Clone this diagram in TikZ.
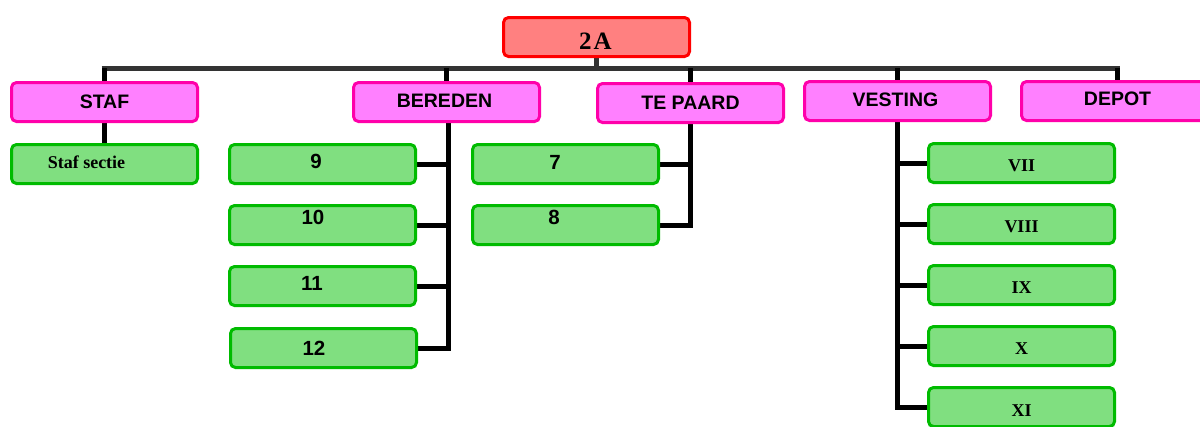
\documentclass[tikz,border=0pt]{standalone}
\usepackage{fontspec}
\usetikzlibrary{backgrounds}
\setmainfont{Liberation Serif}
\setsansfont{Liberation Sans}
\definecolor{topfill}{HTML}{FF8080}
\definecolor{topline}{HTML}{FF0000}
\definecolor{pinkfill}{HTML}{FF80FF}
\definecolor{pinkline}{HTML}{FF00AA}
\definecolor{greenfill}{HTML}{80DF80}
\definecolor{greenline}{HTML}{00BB00}
\definecolor{barcol}{HTML}{333333}
\tikzset{
  box/.style={rounded corners=5pt, line width=3pt, minimum width=186pt, minimum height=39pt, inner sep=0pt, anchor=north west},
  topbox/.style={box, draw=topline, fill=topfill},
  unitbox/.style={box, draw=pinkline, fill=pinkfill},
  greenbox/.style={box, draw=greenline, fill=greenfill},
  toptxt/.style={inner sep=0pt, font=\fontsize{25}{25}\selectfont\bfseries},
  unittxt/.style={inner sep=0pt, font=\sffamily\fontsize{19.5}{19.5}\selectfont\bfseries},
  numtxt/.style={inner sep=0pt, font=\sffamily\fontsize{20.5}{20.5}\selectfont\bfseries},
  romantxt/.style={inner sep=0pt, font=\fontsize{18}{18}\selectfont\bfseries},
  conn/.style={line width=5pt, draw=black},
  barline/.style={line width=5pt, draw=barcol},
}
\begin{document}
\begin{tikzpicture}[x=1pt,y=-1pt]
\clip (0,0) rectangle (1200,426);

% top
\node[topbox, label={[toptxt, xshift=-1pt, yshift=-4pt]center:2\kern2pt A}] (top) at (502,16) {};

% second level
\node[unitbox, label={[unittxt]center:STAF}] (staf) at (10,81) {};
\node[unitbox, label={[unittxt, xshift=-2pt, yshift=1pt]center:BEREDEN}] (bereden) at (352,81) {};
\node[unitbox, label={[unittxt]center:TE PAARD}] (tepaard) at (596,82) {};
\node[unitbox, label={[unittxt, xshift=-2pt, yshift=1.5pt]center:VESTING}] (vesting) at (803,80) {};
\node[unitbox, label={[unittxt, xshift=3pt, yshift=2pt]center:DEPOT}] (depot) at (1020,80) {};

% staf
\node[greenbox, label={[romantxt, xshift=-18pt, yshift=2pt]center:Staf sectie}] (sectie) at (10,143) {};

% bereden
\node[greenbox, label={[numtxt, xshift=-6.5pt, yshift=3pt]center:9}] (b9) at (228,143) {};
\node[greenbox, label={[numtxt, xshift=-9.5pt, yshift=8pt]center:10}] (b10) at (228,204) {};
\node[greenbox, label={[numtxt, xshift=-10.5pt, yshift=3pt]center:11}] (b11) at (228,265) {};
\node[greenbox, label={[numtxt, xshift=-9.5pt]center:12}] (b12) at (229,327) {};

% te paard
\node[greenbox, label={[numtxt, xshift=-10.5pt, yshift=2pt]center:7}] (b7) at (471,143) {};
\node[greenbox, label={[numtxt, xshift=-11.5pt, yshift=8pt]center:8}] (b8) at (471,204) {};

% vesting
\node[greenbox, label={[romantxt, yshift=-3pt]center:VII}] (vii) at (927,142) {};
\node[greenbox, label={[romantxt, yshift=-3pt]center:VIII}] (viii) at (927,203) {};
\node[greenbox, label={[romantxt, yshift=-3pt]center:IX}] (ix) at (927,264) {};
\node[greenbox, label={[romantxt, yshift=-3pt]center:X}] (x) at (927,325) {};
\node[greenbox, label={[romantxt, yshift=-3.5pt]center:XI}] (xi) at (927,386) {};

\coordinate (barL) at (101.5,68);
\coordinate (barR) at (1119.5,68);
\coordinate (btrunk) at ([xshift=1.5pt]bereden.south);
\coordinate (dtop) at ([xshift=3pt]depot.north);

\begin{pgfonlayer}{background}
\fill[white] (0,0) rectangle (1200,426);
% bar
\draw[barline] (barL) -- (barR);
\draw[barline] (top.south) -- (top.south |- barL);

% drops to second level
\draw[conn] (staf.north) -- (staf.north |- barL);
\draw[conn] (bereden.north) -- (bereden.north |- barL);
\draw[conn] (tepaard.north) -- (tepaard.north |- barL);
\draw[conn] (vesting.north) -- (vesting.north |- barL);
\draw[conn] (dtop) -- (dtop |- barL);

% staf
\draw[conn] (staf.south) -- (sectie.north);

% bereden trunk
\draw[conn] (btrunk) |- (b12.east);
\draw[conn] (b9.east) -- (b9.east -| btrunk);
\draw[conn] (b10.east) -- (b10.east -| btrunk);
\draw[conn] (b11.east) -- (b11.east -| btrunk);

% te paard trunk
\draw[conn] (tepaard.south) |- (b8.east);
\draw[conn] (b7.east) -- (b7.east -| tepaard.south);

% vesting trunk
\draw[conn] (vesting.south) |- (xi.west);
\draw[conn] (vii.west) -- (vii.west -| vesting.south);
\draw[conn] (viii.west) -- (viii.west -| vesting.south);
\draw[conn] (ix.west) -- (ix.west -| vesting.south);
\draw[conn] (x.west) -- (x.west -| vesting.south);
\end{pgfonlayer}
\end{tikzpicture}
\end{document}
